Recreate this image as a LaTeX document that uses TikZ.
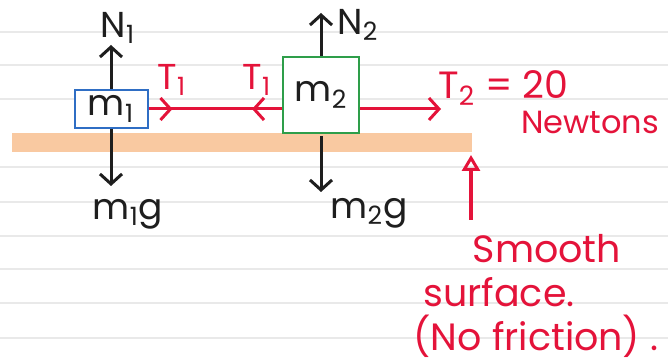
\documentclass[tikz,border=0pt]{standalone}
\usepackage{fontspec}
\setmainfont{Poppins}
\usetikzlibrary{arrows.meta,positioning,decorations.markings}
\definecolor{ink}{HTML}{1E1E1E}
\definecolor{rope}{HTML}{E4133A}
\definecolor{blockone}{HTML}{2F6EC4}
\definecolor{blocktwo}{HTML}{2E9E4A}
\definecolor{tabletop}{HTML}{F9C9A1}
\definecolor{paperline}{HTML}{E9E9E9}
\tikzset{
  every node/.style={font=\fontsize{18}{20}\selectfont,text=ink,inner sep=1pt},
  barb/.style={Straight Barb[length=5pt,width=11pt,line width=1.5pt]},
  block/.style={draw=blockone,line width=1pt,fill=white,inner sep=0pt,minimum width=36.5pt,minimum height=19pt},
  bigblock/.style={block,draw=blocktwo,minimum width=38pt,minimum height=38pt},
  force/.style={-{Straight Barb[length=5pt,width=11pt,line width=1.5pt]},line width=1.5pt,draw=ink},
  pull/.style={-{Straight Barb[length=5pt,width=11pt,line width=1.5pt]},line width=1.5pt,draw=rope},
  rope line/.style={line width=1.5pt,draw=rope},
  pointer/.style={-{Triangle[open,length=8pt,width=9pt,line width=1.5pt]},line width=1.6pt,draw=rope},
  redlabel/.style={text=rope},
  note/.style={redlabel,font=\fontsize{19}{21}\selectfont},
}

\begin{document}
\begin{tikzpicture}[x=0.5pt,y=-0.5pt]
\useasboundingbox (0,0) rectangle (668,362);

% ruled paper and table top
\foreach \yy in {32,65,99,167,202,236,269,303,338}
  \draw[paperline,line width=0.8pt] (0,\yy) -- (668,\yy);
\fill[tabletop] (12,133) rectangle (472,152);

% blocks
\node[block] (m1) at (111,109) {m\textsubscript{1}};
\node[bigblock] (m2) at (321,95) {m\textsubscript{2}};

% weights and normal forces
\coordinate (n1tip) at (111,45);
\coordinate (w1tip) at (111,186);
\coordinate (n2tip) at (321,13);
\coordinate (w2tip) at (321,192);
\draw[force] (m1.north) -- (n1tip);
\draw[force] (m1.south) -- (w1tip);
\draw[force] (m2.north) -- (n2tip);
\draw[force] ([yshift=-1pt]m2.south) -- (w2tip);

\node (N1) at (118,28) {N\textsubscript{1}};
\node (W1) at (128,214) {m\textsubscript{1}g};
\node (N2) at (358,25) {N\textsubscript{2}};
\node (W2) at (369,213) {m\textsubscript{2}g};

% string between the blocks
\draw[rope line,postaction={decorate},decoration={markings,
    mark=at position 12pt with {\arrow{Straight Barb[length=5pt,width=11pt,line width=1.5pt]}},
    mark=at position -15pt with {\arrowreversed{Straight Barb[length=5pt,width=11pt,line width=1.5pt]}}}]
  (m1.east) -- (m1.east -| m2.west);
\node[redlabel] (T1a) at (172,80) {T\textsubscript{1}};
\node[redlabel] (T1b) at (257,80) {T\textsubscript{1}};

% applied pull
\coordinate (t2tip) at (441,109);
\draw[pull] (m1.east -| m2.east) -- (t2tip);
\node[redlabel,anchor=west,font=\fontsize{19}{21}\selectfont] (T2) at (436,88) {T\textsubscript{2} = 20};
\node[redlabel,font=\fontsize{16}{18}\selectfont] (unit) at (590,122) {Newtons};

% surface note
\coordinate (surftail) at (471,220);
\coordinate (surftip) at (471,155);
\draw[pointer] (surftail) -- (surftip);
\node[note] (smooth) at (547,249) {Smooth};
\node[note] (surface) at (499,292) {surface.};
\node[note] (nofric) at (536,336) {(No friction) .};

\end{tikzpicture}
\end{document}
